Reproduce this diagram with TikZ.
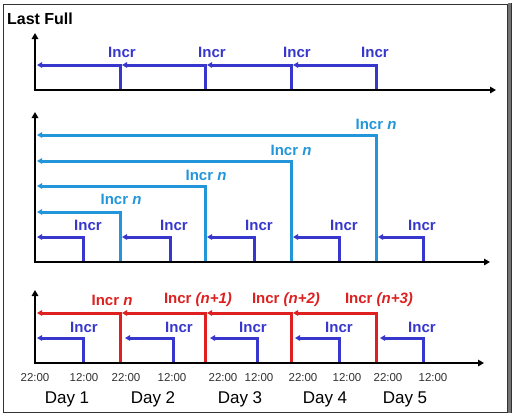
\documentclass[tikz,border=0pt]{standalone}
\usepackage{fontspec}
\setmainfont{Liberation Sans}
\usetikzlibrary{arrows.meta}
\definecolor{dblue}{RGB}{55,55,205}
\definecolor{lblue}{RGB}{35,150,218}
\definecolor{ired}{RGB}{222,32,32}
\tikzset{
  ln/.style={line width=3pt},
  arr/.style={ln,-{Triangle[length=5pt,width=5.5pt]}},
  axis/.style={line width=2.8pt,black,-{Triangle[length=6pt,width=6.5pt]}},
  dlab/.style={font=\fontsize{15}{17}\selectfont\bfseries,text=dblue,inner sep=0pt},
  llab/.style={font=\fontsize{15}{17}\selectfont\bfseries,text=lblue,inner sep=0pt},
  rlab/.style={font=\fontsize{15}{17}\selectfont\bfseries,text=ired,inner sep=0pt},
  tlab/.style={font=\fontsize{11.5}{13}\selectfont,text=black!80,inner sep=0pt},
  daylab/.style={font=\fontsize{17}{19}\selectfont,inner sep=0pt},
}
\begin{document}
\begin{tikzpicture}[x=1pt,y=-1pt]
\useasboundingbox (0,0) rectangle (512,416);
% frame
\fill[white] (3,4) rectangle (507,412);
\draw[black!80,line width=0.9pt] (3,4) rectangle (507,412);
\fill[black!55] (507.5,3) rectangle (511.5,413);
\draw[black!80,line width=0.8pt] (511.5,3) -- (511.5,413);

% ===== Panel 1 =====
\node[font=\fontsize{16}{18}\selectfont\bfseries,inner sep=0pt] (lastfull) at (40,19) {Last Full};
\coordinate (o1) at (35,90);
\coordinate (y1) at (35,33);
\coordinate (x1) at (496,90);
\coordinate (a1) at (120,90); \coordinate (a1t) at (120,65);
\coordinate (b1) at (205,90); \coordinate (b1t) at (205,65);
\coordinate (c1) at (291,90); \coordinate (c1t) at (291,65);
\coordinate (d1) at (376,90); \coordinate (d1t) at (376,65);
\coordinate (e1) at (37,65);
\draw[arr,dblue] (a1) -- (a1t) -- (e1);
\draw[arr,dblue] (b1) -- (b1t) -- ([xshift=2pt]a1t);
\draw[arr,dblue] (c1) -- (c1t) -- ([xshift=2pt]b1t);
\draw[arr,dblue] (d1) -- (d1t) -- ([xshift=2pt]c1t);
\node[dlab] (l1a) at (122,52) {Incr};
\node[dlab] (l1b) at (212,52) {Incr};
\node[dlab] (l1c) at (297,52) {Incr};
\node[dlab] (l1d) at (375,52) {Incr};
\draw[axis] (o1) -- (y1);
\draw[axis] ([xshift=-1.4pt]o1) -- (x1);

% ===== Panel 2 =====
\coordinate (o2) at (35,262);
\coordinate (y2) at (35,112);
\coordinate (x2) at (490,262);
% light blue
\coordinate (la) at (120,262); \coordinate (lat) at (120,212); \coordinate (lae) at (37,212);
\coordinate (lb) at (205,262); \coordinate (lbt) at (205,186); \coordinate (lbe) at (37,186);
\coordinate (lc) at (291,262); \coordinate (lct) at (291,161); \coordinate (lce) at (37,161);
\coordinate (ld) at (376,262); \coordinate (ldt) at (376,135); \coordinate (lde) at (37,135);
\draw[arr,lblue] (la) -- (lat) -- (lae);
\draw[arr,lblue] (lb) -- (lbt) -- (lbe);
\draw[arr,lblue] (lc) -- (lct) -- (lce);
\draw[arr,lblue] (ld) -- (ldt) -- (lde);
\node[llab] (n2a) at (121,199) {Incr \textit{n}};
\node[llab] (n2b) at (206,175) {Incr \textit{n}};
\node[llab] (n2c) at (291,150) {Incr \textit{n}};
\node[llab] (n2d) at (376,124) {Incr \textit{n}};
% dark blue
\coordinate (da) at (83,262);  \coordinate (dat) at (83,237);  \coordinate (dae) at (37,237);
\coordinate (db) at (170,262); \coordinate (dbt) at (170,237); \coordinate (dbe) at (122,237);
\coordinate (dc) at (254,262); \coordinate (dct) at (254,237); \coordinate (dce) at (207,237);
\coordinate (dd) at (339,262); \coordinate (ddt) at (339,237); \coordinate (dde) at (293,237);
\coordinate (de) at (423,262); \coordinate (det) at (423,237); \coordinate (dee) at (378,237);
\draw[arr,dblue] (da) -- (dat) -- (dae);
\draw[arr,dblue] (db) -- (dbt) -- (dbe);
\draw[arr,dblue] (dc) -- (dct) -- (dce);
\draw[arr,dblue] (dd) -- (ddt) -- (dde);
\draw[arr,dblue] (de) -- (det) -- (dee);
\node[dlab] (m2a) at (88,225) {Incr};
\node[dlab] (m2b) at (174,225) {Incr};
\node[dlab] (m2c) at (259,225) {Incr};
\node[dlab] (m2d) at (344,225) {Incr};
\node[dlab] (m2e) at (422,225) {Incr};
\draw[axis] (o2) -- (y2);
\draw[axis] ([xshift=-1.4pt]o2) -- (x2);

% ===== Panel 3 =====
\coordinate (o3) at (35,363);
\coordinate (y3) at (35,290);
\coordinate (x3) at (484,363);
% red
\coordinate (ra) at (120,363); \coordinate (rat) at (120,313); \coordinate (rae) at (37,313);
\coordinate (rb) at (205,363); \coordinate (rbt) at (205,313);
\coordinate (rc) at (291,363); \coordinate (rct) at (291,313);
\coordinate (rd) at (376,363); \coordinate (rdt) at (376,313);
\draw[arr,ired] (ra) -- (rat) -- (rae);
\draw[arr,ired] (rb) -- (rbt) -- ([xshift=2pt]rat);
\draw[arr,ired] (rc) -- (rct) -- ([xshift=2pt]rbt);
\draw[arr,ired] (rd) -- (rdt) -- ([xshift=2pt]rct);
\node[rlab] (r3a) at (112,300) {Incr \textit{n}};
\node[rlab] (r3b) at (198,300) {Incr \textit{(n+1)}};
\node[rlab] (r3c) at (286,300) {Incr \textit{(n+2)}};
\node[rlab] (r3d) at (379,300) {Incr \textit{(n+3)}};
% blue
\coordinate (ba) at (83,363);  \coordinate (bat) at (83,338);  \coordinate (bae) at (37,338);
\coordinate (bb) at (173,363); \coordinate (bbt) at (173,338); \coordinate (bbe) at (125,338);
\coordinate (bc) at (257,363); \coordinate (bct) at (257,338); \coordinate (bce) at (210,338);
\coordinate (bd) at (339,363); \coordinate (bdt) at (339,338); \coordinate (bde) at (295,338);
\coordinate (be) at (423,363); \coordinate (bet) at (423,338); \coordinate (bee) at (380,338);
\draw[arr,dblue] (ba) -- (bat) -- (bae);
\draw[arr,dblue] (bb) -- (bbt) -- (bbe);
\draw[arr,dblue] (bc) -- (bct) -- (bce);
\draw[arr,dblue] (bd) -- (bdt) -- (bde);
\draw[arr,dblue] (be) -- (bet) -- (bee);
\node[dlab] (b3a) at (84,327) {Incr};
\node[dlab] (b3b) at (179,327) {Incr};
\node[dlab] (b3c) at (253,327) {Incr};
\node[dlab] (b3d) at (339,327) {Incr};
\node[dlab] (b3e) at (422,327) {Incr};
\draw[axis] (o3) -- (y3);
\draw[axis] ([xshift=-1.4pt]o3) -- (x3);

% times
\node[tlab] (t1) at (35,378) {22:00};
\node[tlab] (t2) at (84,378) {12:00};
\node[tlab] (t3) at (126,378) {22:00};
\node[tlab] (t4) at (172,378) {12:00};
\node[tlab] (t5) at (223,378) {22:00};
\node[tlab] (t6) at (259,378) {12:00};
\node[tlab] (t7) at (303,378) {22:00};
\node[tlab] (t8) at (347,378) {12:00};
\node[tlab] (t9) at (388,378) {22:00};
\node[tlab] (t10) at (433,378) {12:00};
% days
\node[daylab] (day1) at (67,399) {Day 1};
\node[daylab] (day2) at (153,399) {Day 2};
\node[daylab] (day3) at (240,399) {Day 3};
\node[daylab] (day4) at (325,399) {Day 4};
\node[daylab] (day5) at (405,399) {Day 5};
\end{tikzpicture}
\end{document}
